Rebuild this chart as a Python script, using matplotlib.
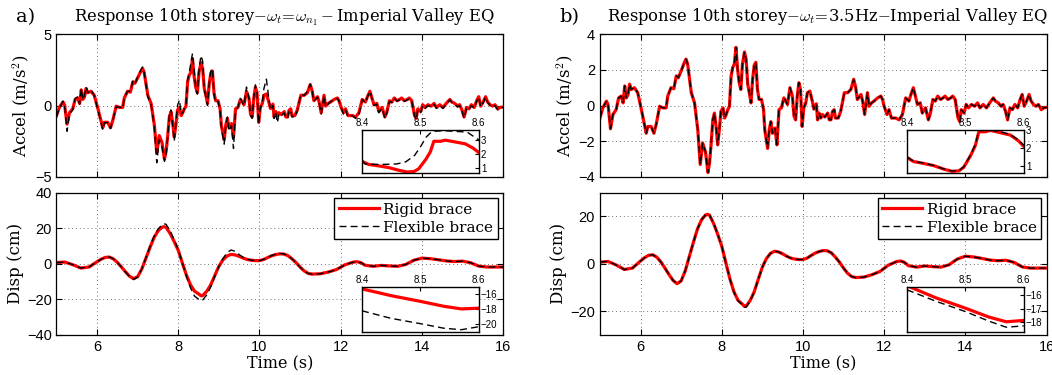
import matplotlib
matplotlib.use('Agg')
import matplotlib.pyplot as plt

# ---- data ----
accel_t = [5.0, 5.07, 5.16, 5.2, 5.26, 5.32, 5.4, 5.46, 5.52, 5.57, 5.61, 5.65, 5.69, 5.73, 5.77,
           5.85, 5.93, 6.02, 6.08, 6.14, 6.18, 6.26, 6.33, 6.39, 6.47, 6.55, 6.63, 6.67, 6.75, 6.82,
           6.88, 6.93, 7.0, 7.08, 7.12, 7.16, 7.25, 7.33, 7.41, 7.47, 7.53, 7.6, 7.66, 7.7, 7.74,
           7.78, 7.82, 7.86, 7.9, 7.94, 7.98, 8.03, 8.07, 8.11, 8.15, 8.19, 8.23, 8.27, 8.31, 8.35,
           8.39, 8.43, 8.47, 8.51, 8.56, 8.6, 8.64, 8.68, 8.72, 8.76, 8.8, 8.84, 8.88, 8.92, 8.98,
           9.03, 9.06, 9.13, 9.17, 9.21, 9.25, 9.31, 9.36, 9.41, 9.47, 9.53, 9.58, 9.62, 9.68, 9.74,
           9.78, 9.82, 9.86, 9.9, 9.94, 9.98, 10.02, 10.07, 10.11, 10.17, 10.23, 10.27, 10.33, 10.36,
           10.4, 10.44, 10.48, 10.54, 10.61, 10.65, 10.69, 10.73, 10.77, 10.8, 10.87, 10.93, 11.02,
           11.1, 11.18, 11.25, 11.3, 11.34, 11.43, 11.47, 11.52, 11.59, 11.63, 11.69, 11.75, 11.84,
           11.92, 11.96, 12.0, 12.07, 12.12, 12.18, 12.29, 12.37, 12.45, 12.53, 12.61, 12.66, 12.72,
           12.78, 12.82, 12.89, 12.94, 13.02, 13.09, 13.14, 13.2, 13.26, 13.32, 13.39, 13.45, 13.5,
           13.57, 13.64, 13.69, 13.75, 13.82, 13.86, 13.9, 13.97, 14.02, 14.08, 14.15, 14.23, 14.3,
           14.36, 14.44, 14.52, 14.6, 14.69, 14.74, 14.81, 14.88, 14.93, 14.99, 15.04, 15.1, 15.16,
           15.22, 15.29, 15.35, 15.4, 15.45, 15.51, 15.57, 15.62, 15.68, 15.74, 15.8, 15.87, 15.93, 16.0]

accel_rigid = [-0.7, -0.13, 0.25, 0.05, -1.3, -0.5, -0.22, 0.43, 0.53, 0.15, 1.1, 0.43, 0.6, 1.2, 0.9,
               1.0, 0.72, -0.22, -0.9, -1.55, -1.17, -1.17, -1.55, -1.0, -0.04, -0.13, -0.13, 0.53, 1.0, 0.94,
               1.66, 1.56, 1.94, 2.42, 2.6, 2.32, 0.72, 0.15, -1.36, -3.3, -2.1, -2.6, -3.75, -3.2, -2.1,
               -0.8, -0.42, -1.17, -2.2, -1.36, -0.32, -0.13, -0.7, -0.5, -0.23, -0.04, 1.66, 2.13, 2.32, 3.26,
               2.04, 1.28, 0.9, 2.32, 3.0, 2.6, 1.19, 0.72, 0.15, 1.47, 2.26, 2.42, 0.9, 0.34, 0.34,
               -0.23, -1.36, -2.4, -1.36, -0.9, -1.55, -1.26, -2.2, -0.23, -0.13, 0.43, 0.25, 0.06, 1.0, 0.53,
               -0.6, -0.8, 0.53, 1.28, 0.9, -1.17, -0.13, 0.15, 0.72, 0.81, 0.25, -0.2, 0.1, -0.8,
               -0.42, -0.7, -0.5, -0.64, -0.42, -0.8, -0.8, -0.32, -0.23, -0.7, -0.7, -0.32, 0.72,
               0.72, 0.9, 1.47, 1.0, 0.34, 0.62, 0.25, -0.5, 0.72, -0.04, 0.15, 0.25, 0.43,
               0.53, 0.34, -0.04, -0.5, -0.23, -0.7, -0.7, -0.8, -0.5, 0.43, 0.25, 0.62, 1.0,
               0.43, 0.06, 0.15, -0.42, -0.13, -0.8, -0.42, 0.34, 0.25, 0.53, 0.34, 0.43, 0.53,
               0.34, 0.43, 0.53, 0.34, -0.7, -0.89, -0.23, -0.42, 0.06, -0.13, 0.06, -0.04, 0.15,
               -0.13, 0.06, -0.13, 0.15, 0.43, 0.25, 0.15, -0.04, 0.06, -0.32, -0.8, -0.13, -0.23,
               0.06, -0.13, 0.34, 0.62, -0.04, 0.25, 0.62, 0.25, 0.06, -0.04, 0.06, -0.23, -0.13, -0.1]

accel_flex_a = [-0.8, -0.2, 0.3, 0.0, -1.8, -0.6, -0.3, 0.5, 0.6, 0.1, 1.2, 0.4, 0.7, 1.3, 0.9,
                1.1, 0.7, -0.3, -1.0, -1.7, -1.2, -1.2, -1.6, -1.0, -0.1, -0.1, -0.2, 0.5, 1.0, 1.0,
                1.7, 1.5, 2.0, 2.5, 2.7, 2.3, 0.6, 0.1, -1.5, -4.0, -2.4, -2.9, -3.9, -3.4, -2.2,
                -0.7, -0.3, -1.3, -2.5, -1.3, 0.0, 0.4, -0.6, -0.5, -0.2, 0.0, 1.8, 2.3, 3.0, 3.65,
                2.5, 1.2, 0.8, 2.6, 3.5, 3.1, 1.1, 0.6, 0.0, 1.5, 2.4, 2.6, 0.8, 0.2, 0.3,
                -0.4, -1.5, -2.7, -1.4, -0.8, -1.8, -1.4, -3.0, -0.4, -0.1, 0.5, 0.2, 0.0, 1.3, 0.5,
                -0.7, -0.9, 0.6, 1.45, 0.9, -1.3, -0.2, 0.2, 1.2, 1.85, 0.5, -0.3, 0.0, -0.9,
                -0.5, -1.2, -0.6, -0.7, -0.5, -0.9, -0.9, -0.4, -0.3, -0.8, -0.8, -0.4, 0.8,
                0.7, 1.0, 1.5, 1.0, 0.3, 0.6, 0.2, -0.6, 0.7, -0.1, 0.1, 0.3, 0.4,
                0.5, 0.3, -0.1, -0.6, -0.3, -0.8, -0.7, -0.9, -0.6, 0.4, 0.2, 0.6, 1.0,
                0.4, 0.0, 0.1, -0.5, -0.2, -0.9, -0.5, 0.3, 0.2, 0.5, 0.3, 0.4, 0.5,
                0.3, 0.4, 0.5, 0.3, -0.7, -1.0, -0.3, -0.5, 0.0, -0.2, 0.0, -0.1, 0.1,
                -0.2, 0.0, -0.2, 0.1, 0.4, 0.2, 0.1, -0.1, 0.0, -0.4, -0.9, -0.2, -0.3,
                0.0, -0.2, 0.3, 0.6, -0.1, 0.2, 0.6, 0.2, 0.0, -0.1, 0.0, -0.3, -0.2, -0.1]

accel_flex_b = accel_rigid  # coincides with the rigid curve at this scale

disp_t = [5.0, 5.2, 5.4, 5.6, 5.8, 6.0, 6.1, 6.2, 6.3, 6.4, 6.5, 6.6, 6.7, 6.8, 6.9, 7.0, 7.1, 7.2,
          7.3, 7.4, 7.5, 7.6, 7.65, 7.7, 7.8, 7.9, 8.0, 8.1, 8.2, 8.3, 8.4, 8.5, 8.56, 8.6, 8.7,
          8.8, 8.9, 9.0, 9.1, 9.2, 9.3, 9.4, 9.5, 9.6, 9.7, 9.8, 9.9, 10.0, 10.1, 10.2, 10.3, 10.4,
          10.5, 10.6, 10.7, 10.8, 10.9, 11.0, 11.1, 11.2, 11.3, 11.5, 11.7, 11.9, 12.1, 12.3, 12.4,
          12.5, 12.6, 12.8, 13.0, 13.2, 13.4, 13.6, 13.8, 14.0, 14.2, 14.4, 14.6, 14.8, 15.0, 15.2,
          15.4, 15.6, 15.8, 16.0]

disp_rigid = [0.7, 1.0, -0.5, -2.4, -1.8, 1.2, 2.6, 3.6, 3.8, 2.8, 0.8, -1.8, -4.5, -7.0, -8.4, -7.2, -3.0, 3.0,
              9.0, 14.6, 18.5, 20.6, 20.9, 20.5, 17.0, 12.5, 7.5, 0.5, -6.3, -11.8, -15.4, -16.9, -18.0, -17.9, -15.5,
              -11.8, -6.5, -1.4, 2.2, 4.4, 5.3, 5.0, 4.2, 3.2, 2.4, 2.0, 1.8, 1.8, 2.4, 3.5, 4.5, 5.2,
              5.6, 5.5, 4.6, 2.8, 0.7, -1.8, -4.0, -5.4, -5.8, -5.6, -4.6, -3.2, -0.6, 0.9, 1.2,
              0.6, -0.8, -1.4, -0.9, -1.2, -1.4, -0.4, 2.0, 3.2, 2.9, 2.3, 1.6, 1.3, 1.5, 0.6,
              -1.3, -1.8, -1.8, -1.8]

disp_flex_a = [0.7, 1.0, -0.5, -2.4, -1.8, 1.2, 2.6, 3.6, 3.9, 2.8, 0.7, -1.9, -4.7, -7.3, -8.8, -7.5, -3.0, 3.2,
               9.5, 15.3, 19.5, 22.0, 22.6, 22.2, 18.5, 13.5, 8.0, 0.5, -7.0, -13.5, -18.2, -19.9, -20.7, -20.4, -17.5,
               -13.0, -7.0, -1.5, 3.0, 6.2, 7.8, 7.0, 5.2, 3.6, 2.6, 2.0, 1.8, 1.8, 2.5, 3.6, 4.7, 5.4,
               5.8, 5.6, 4.6, 2.8, 0.6, -1.9, -4.1, -5.5, -5.9, -5.6, -4.6, -3.2, -0.6, 0.9, 1.2,
               0.6, -0.8, -1.4, -0.9, -1.2, -1.4, -0.4, 2.0, 3.2, 2.9, 2.3, 1.6, 1.3, 1.5, 0.6,
               -1.3, -1.8, -1.8, -1.8]

disp_flex_b = [0.7, 1.0, -0.5, -2.4, -1.8, 1.2, 2.6, 3.6, 3.8, 2.8, 0.8, -1.8, -4.5, -7.0, -8.4, -7.2, -3.0, 3.0,
               9.0, 14.6, 18.6, 20.7, 21.0, 20.6, 17.1, 12.6, 7.5, 0.4, -6.4, -12.0, -15.6, -17.2, -18.4, -18.25, -15.7,
               -11.9, -6.5, -1.4, 2.2, 4.4, 5.3, 5.0, 4.2, 3.2, 2.4, 2.0, 1.8, 1.8, 2.4, 3.5, 4.5, 5.2,
               5.6, 5.5, 4.6, 2.8, 0.7, -1.8, -4.0, -5.4, -5.8, -5.6, -4.6, -3.2, -0.6, 0.9, 1.2,
               0.6, -0.8, -1.4, -0.9, -1.2, -1.4, -0.4, 2.0, 3.2, 2.9, 2.3, 1.6, 1.3, 1.5, 0.6,
               -1.3, -1.8, -1.8, -1.8]

# zoomed windows 8.4 - 8.6 s
zoom_acc_t = [8.4, 8.411, 8.429, 8.446, 8.463, 8.477, 8.489, 8.497, 8.509, 8.517, 8.523, 8.534,
              8.543, 8.56, 8.577, 8.591, 8.6]
zoom_acc_rigid = [1.49, 1.27, 1.16, 1.04, 0.85, 0.73, 0.76, 0.95, 1.6, 2.15, 2.9, 2.9,
                  2.98, 2.85, 2.72, 2.4, 2.1]
zoom_acc_flex_b = [1.52, 1.29, 1.18, 1.05, 0.86, 0.75, 0.78, 0.98, 1.65, 2.2, 2.95, 3.0,
                   3.0, 2.9, 2.75, 2.45, 2.15]
zoom_acc_flex_a_t = [8.4, 8.405, 8.42, 8.44, 8.46, 8.475, 8.49, 8.5, 8.51, 8.52, 8.54, 8.56, 8.58, 8.6]
zoom_acc_flex_a = [1.55, 1.3, 1.27, 1.27, 1.3, 1.45, 1.9, 2.5, 3.2, 3.6, 3.65, 3.6, 3.55, 3.0]

zoom_disp_t = [8.4, 8.45, 8.5, 8.54, 8.57, 8.6]
zoom_disp_rigid = [-15.3, -16.2, -16.95, -17.6, -17.95, -17.85]
zoom_disp_flex_a = [-18.2, -19.2, -19.9, -20.5, -20.7, -20.3]
zoom_disp_flex_b = [-15.6, -16.45, -17.2, -17.9, -18.35, -18.25]

titles = [r'Response 10th storey$-\omega_t\!=\!\omega_{n_1}-$Imperial Valley EQ',
          r'Response 10th storey$-\omega_t\!=\!$3.5Hz$-$Imperial Valley EQ']

# ---- figure ----
plt.rcParams['font.family'] = ['Liberation Sans', 'DejaVu Sans']
plt.rcParams['mathtext.fontset'] = 'cm'
serif = 'DejaVu Serif'

fig = plt.figure(figsize=(10.52, 3.75), dpi=100)

RED = (1, 0, 0)
lw_r = 2.3
dash_kw = dict(color='k', lw=1.0, dashes=(5, 3))


def style_main(ax, xlab):
    ax.set_xlim(5, 16)
    ax.set_xticks([6, 8, 10, 12, 14, 16])
    ax.grid(True, color='0.45', lw=0.7, dashes=(1, 3))
    ax.tick_params(direction='in', top=True, right=True, labelsize=10.5, length=4)
    for s in ax.spines.values():
        s.set_linewidth(0.9)
    if xlab:
        ax.set_xlabel('Time (s)', family=serif, fontsize=11.5, labelpad=1)
    else:
        ax.tick_params(labelbottom=False)


def style_inset(ax, ylim, yticks):
    ax.set_xlim(8.4, 8.6)
    ax.set_ylim(*ylim)
    ax.set_xticks([8.4, 8.5, 8.6])
    ax.set_yticks(yticks)
    ax.xaxis.tick_top()
    ax.yaxis.tick_right()
    ax.tick_params(direction='in', labelsize=7, length=3, pad=1.5)
    for s in ax.spines.values():
        s.set_linewidth(1.0)


lefts = [0.0537, 0.5703]
width = 0.4245

for k in range(2):
    L = lefts[k]
    axa = fig.add_axes([L, 0.528, width, 0.381])
    axd = fig.add_axes([L, 0.107, width, 0.379])

    flex_acc = accel_flex_a if k == 0 else accel_flex_b
    flex_disp = disp_flex_a if k == 0 else disp_flex_b

    axa.plot(accel_t, accel_rigid, color=RED, lw=lw_r)
    axa.plot(accel_t, flex_acc, **dash_kw)
    axd.plot(disp_t, disp_rigid, color=RED, lw=lw_r, label='Rigid brace')
    axd.plot(disp_t, flex_disp, label='Flexible brace', **dash_kw)

    style_main(axa, False)
    style_main(axd, True)
    if k == 0:
        axa.set_ylim(-5, 5)
        axa.set_yticks([-5, 0, 5])
        axd.set_ylim(-40, 40)
        axd.set_yticks([-40, -20, 0, 20, 40])
    else:
        axa.set_ylim(-4, 4)
        axa.set_yticks([-4, -2, 0, 2, 4])
        axd.set_ylim(-30, 30)
        axd.set_yticks([-20, 0, 20])
    axa.set_ylabel(r'Accel (m/s$^2$)', family=serif, fontsize=12, labelpad=2)
    axd.set_ylabel('Disp (cm)', family=serif, fontsize=12, labelpad=2)

    leg = axd.legend(loc='upper right', prop={'family': serif, 'size': 11}, fancybox=False,
                     framealpha=1, edgecolor='k', handlelength=2.6, borderpad=0.3,
                     labelspacing=0.25, handletextpad=0.3, borderaxespad=0.35)
    leg.get_frame().set_linewidth(1.0)

    fig.text(L + width / 2 + 0.004, 0.955, titles[k], ha='center', va='center',
             family=serif, fontsize=11.8)
    fig.text(0.015 if k == 0 else 0.532, 0.955, 'a)' if k == 0 else 'b)',
             ha='left', va='center', family=serif, fontsize=14)

    # insets
    ix = 0.3441 if k == 0 else 0.8622
    ia = fig.add_axes([ix, 0.5387, 0.1110, 0.1147])
    idd = fig.add_axes([ix, 0.1147, 0.1110, 0.1190])
    ia.plot(zoom_acc_t, zoom_acc_rigid, color=RED, lw=lw_r)
    idd.plot(zoom_disp_t, zoom_disp_rigid, color=RED, lw=lw_r)
    if k == 0:
        ia.plot(zoom_acc_flex_a_t, zoom_acc_flex_a, **dash_kw)
        idd.plot(zoom_disp_t, zoom_disp_flex_a, **dash_kw)
        style_inset(ia, (0.66, 3.7), [1, 2, 3])
        style_inset(idd, (-21.0, -15.1), [-20, -18, -16])
    else:
        ia.plot(zoom_acc_t, zoom_acc_flex_b, **dash_kw)
        idd.plot(zoom_disp_t, zoom_disp_flex_b, **dash_kw)
        style_inset(ia, (0.64, 3.0), [1, 2, 3])
        style_inset(idd, (-18.7, -15.42), [-18, -17, -16])

fig.savefig('out.png', dpi=100)
